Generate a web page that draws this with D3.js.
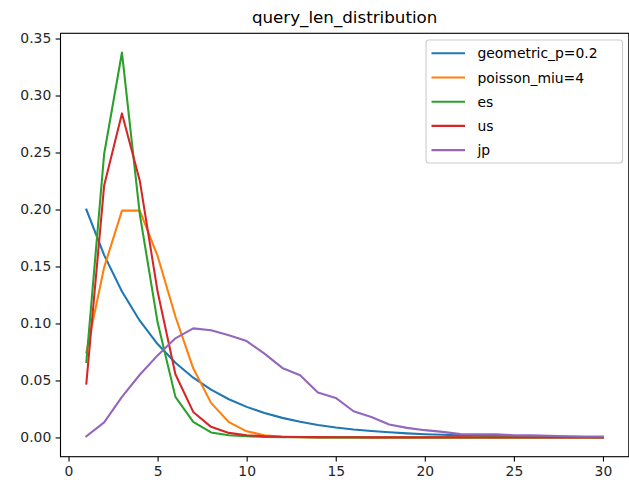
<!DOCTYPE html>
<html>
<head>
<meta charset="utf-8">
<script src="https://cdn.jsdelivr.net/npm/d3@7"></script>
<style>
  html, body { margin: 0; padding: 0; background: #fff; }
  svg { display: block; }
</style>
</head>
<body>
<svg id="chart" width="629" height="485"></svg>
<script>
// ---- data ----
const chartTitle = "query_len_distribution";
const queryLen = d3.range(1, 31); // 1..30
const seriesNames = ["geometric_p=0.2", "poisson_miu=4", "es", "us", "jp"];
const geometric = [0.2, 0.16, 0.128, 0.1024, 0.08192, 0.06554, 0.05243, 0.04194, 0.03355, 0.02684,
  0.02147, 0.01718, 0.01374, 0.011, 0.0088, 0.00704, 0.00563, 0.0045, 0.0036, 0.00288,
  0.00231, 0.00184, 0.00148, 0.00118, 0.00094, 0.00076, 0.0006, 0.00048, 0.00039, 0.00031];
const poisson = [0.07463, 0.14926, 0.19902, 0.19902, 0.15921, 0.10614, 0.06065, 0.03033, 0.01348, 0.00539,
  0.00196, 0.00065, 0.0002, 0.00006, 0.00002, 0, 0, 0, 0, 0,
  0, 0, 0, 0, 0, 0, 0, 0, 0, 0];
const es = [0.0662, 0.2487, 0.3377, 0.196, 0.101, 0.0356, 0.0137, 0.0044, 0.002, 0.001,
  0.0005, 0.0003, 0.0002, 0.0001, 0.0001, 0.0001, 0, 0, 0, 0,
  0, 0, 0, 0, 0, 0, 0, 0, 0, 0];
const us = [0.0473, 0.221, 0.2843, 0.2253, 0.128, 0.0554, 0.0224, 0.0093, 0.004, 0.002,
  0.001, 0.0006, 0.0004, 0.0003, 0.0002, 0.0002, 0.0001, 0.0001, 0.0001, 0.0001,
  0.0001, 0.0001, 0, 0, 0, 0, 0, 0, 0, 0];
const jp = [0.0011, 0.0132, 0.0356, 0.055, 0.072, 0.087, 0.0957, 0.094, 0.0896, 0.0846,
  0.0735, 0.061, 0.0546, 0.0394, 0.0347, 0.023, 0.018, 0.0114, 0.0084, 0.0064,
  0.0049, 0.0029, 0.0028, 0.0027, 0.002, 0.0018, 0.0015, 0.001, 0.0008, 0.0008];
const xTicks = [0, 5, 10, 15, 20, 25, 30];
const yTicks = [0, 0.05, 0.1, 0.15, 0.2, 0.25, 0.3, 0.35];
const colors = ["#1f77b4", "#ff7f0e", "#2ca02c", "#d62728", "#9467bd"];

const allSeries = [geometric, poisson, es, us, jp];

// ---- layout ----
const svg = d3.select("#chart");
const plot = { left: 60.5, right: 628.8, top: 33.3, bottom: 456.7 };
const font = "'DejaVu Sans', sans-serif";

const xExt = d3.extent(queryLen);
const xPad = (xExt[1] - xExt[0]) * 0.05;
const yMax = d3.max(allSeries, s => d3.max(s));
const yMin = d3.min(allSeries, s => d3.min(s));
const yPad = (yMax - yMin) * 0.05;

const x = d3.scaleLinear().domain([xExt[0] - xPad, xExt[1] + xPad]).range([plot.left, plot.right]);
const y = d3.scaleLinear().domain([yMin - yPad, yMax + yPad]).range([plot.bottom, plot.top]);

// clip
svg.append("defs").append("clipPath").attr("id", "clip")
  .append("rect").attr("x", plot.left).attr("y", plot.top)
  .attr("width", plot.right - plot.left).attr("height", plot.bottom - plot.top);

// lines
const line = d3.line().x((d, i) => x(queryLen[i])).y(d => y(d));
const lines = svg.append("g").attr("clip-path", "url(#clip)");
allSeries.forEach((s, k) => {
  lines.append("path").datum(s)
    .attr("d", line)
    .attr("fill", "none")
    .attr("stroke", colors[k])
    .attr("stroke-width", 2.08)
    .attr("stroke-linejoin", "round")
    .attr("stroke-linecap", "square");
});

// axes
const xAxis = d3.axisBottom(x).tickValues(xTicks).tickFormat(d3.format("d")).tickSize(4.86).tickPadding(4.4);
const yAxis = d3.axisLeft(y).tickValues(yTicks).tickFormat(d3.format(".2f")).tickSize(4.86).tickPadding(4.4);

const gx = svg.append("g").attr("transform", `translate(0,${plot.bottom})`).call(xAxis);
const gy = svg.append("g").attr("transform", `translate(${plot.left},0)`).call(yAxis);
[gx, gy].forEach(g => {
  g.select(".domain").remove();
  g.selectAll(".tick line").attr("stroke", "#000").attr("stroke-width", 1.1);
  g.selectAll(".tick text").attr("fill", "#262626").style("font-family", font).style("font-size", "13.9px");
});

// spines
const spines = svg.append("g").attr("fill", "none").attr("stroke", "#000").attr("stroke-width", 1.1);
spines.append("rect").attr("x", plot.left).attr("y", plot.top)
  .attr("width", plot.right - plot.left).attr("height", plot.bottom - plot.top);

// title
svg.append("text")
  .attr("x", (plot.left + plot.right) / 2)
  .attr("y", 22.5)
  .attr("text-anchor", "middle")
  .style("font-family", font)
  .style("font-size", "16.7px")
  .attr("fill", "#000")
  .text(chartTitle);

// legend
const lg = svg.append("g");
lg.append("rect")
  .attr("x", 426).attr("y", 40).attr("width", 196.5).attr("height", 123)
  .attr("rx", 3).attr("ry", 3)
  .attr("fill", "#fff").attr("fill-opacity", 0.8)
  .attr("stroke", "#cccccc").attr("stroke-width", 1.1);
seriesNames.forEach((name, k) => {
  const cy = 53.3 + k * 24.2;
  lg.append("line").attr("x1", 431.5).attr("x2", 465).attr("y1", cy).attr("y2", cy)
    .attr("stroke", colors[k]).attr("stroke-width", 2.08);
  lg.append("text").attr("x", 477.5).attr("y", cy + 5)
    .style("font-family", font).style("font-size", "13.9px")
    .attr("fill", "#000").text(name);
});
</script>
</body>
</html>
